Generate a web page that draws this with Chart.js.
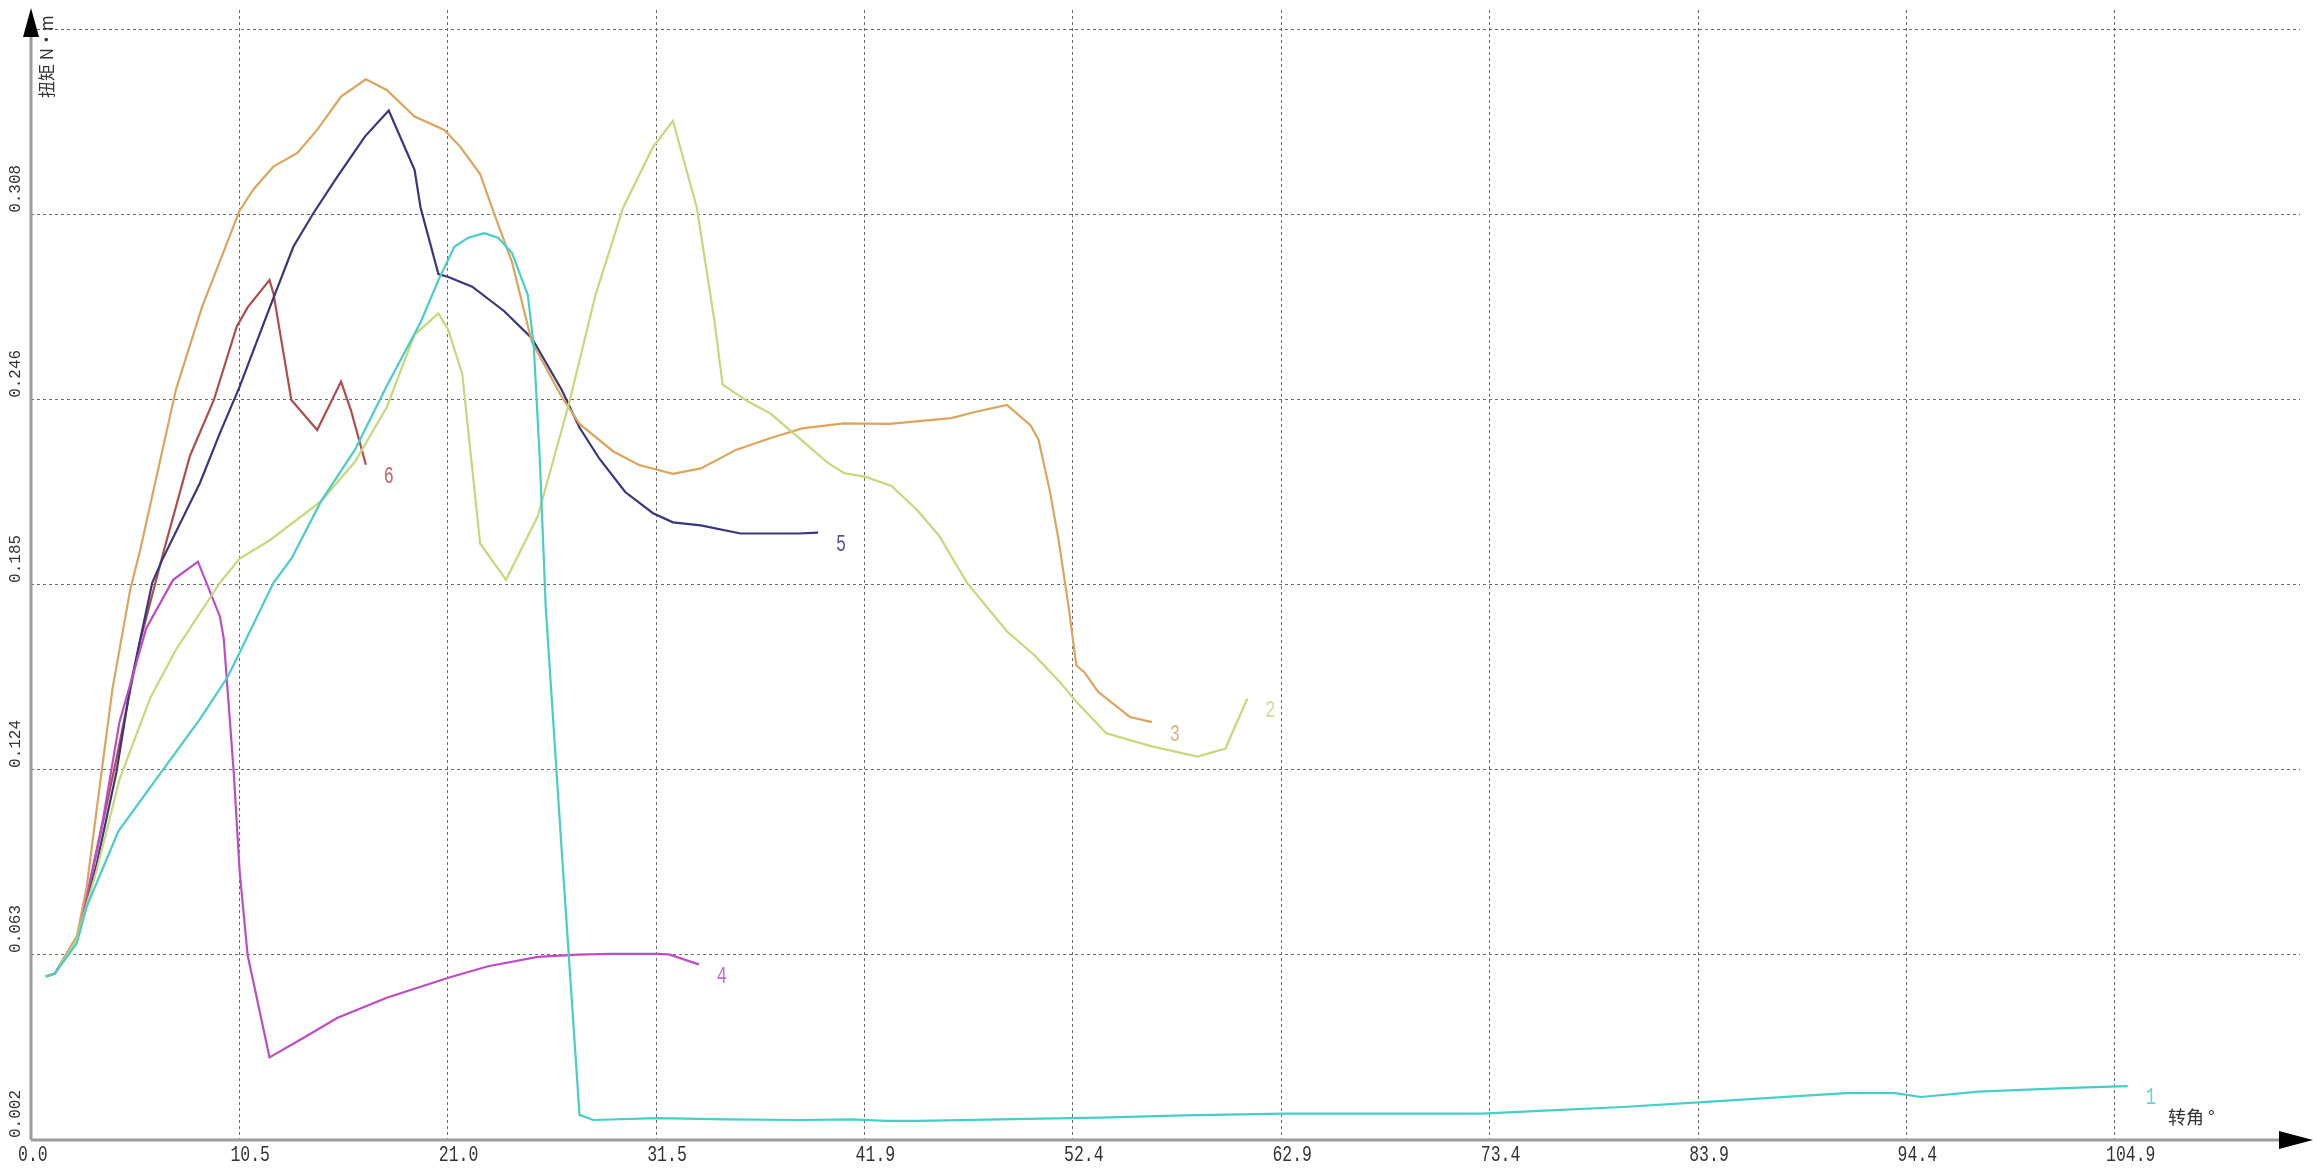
<!DOCTYPE html>
<html>
<head>
<meta charset="utf-8">
<script src="https://cdn.jsdelivr.net/npm/chart.js@4.4.1/dist/chart.umd.min.js"></script>
<style>
  html, body { margin: 0; padding: 0; background: #fff; }
  canvas { display: block; }
</style>
</head>
<body>
<canvas id="torque" width="2317" height="1175"></canvas>
<script>
// tick positions and labels
const xTickValues = [0, 10.486, 20.972, 31.458, 41.944, 52.43, 62.916, 73.402, 83.888, 94.374, 104.86];
const xTickLabels = ['0.0', '10.5', '21.0', '31.5', '41.9', '52.4', '62.9', '73.4', '83.9', '94.4', '104.9'];
const yTickValues = [0.002, 0.06311, 0.12422, 0.18533, 0.24644, 0.30755, 0.36866];
const yTickLabels = ['0.002', '0.063', '0.124', '0.185', '0.246', '0.308', ''];

const seriesNames = ['1', '2', '3', '4', '5', '6'];
const seriesColors = ['#45cfc6', '#c5d97a', '#dba55c', '#bf4cc4', '#37377f', '#b24c4c'];

// 1
const angle1 = [0.75, 1.2, 2.3, 2.8, 4.4, 6.5, 8.5, 9.9, 10.5, 12.2, 13.1, 14.6, 16.3, 17.9, 19.6, 20.5, 21.3, 22.0, 22.8, 23.5, 24.2, 25.0, 25.3, 25.6, 25.9, 26.7, 27.6, 28.3, 31.5, 35.0, 38.7, 41.3, 43.0, 44.7, 50.1, 53.8, 58.0, 63.0, 73.0, 75.9, 80.1, 84.3, 91.3, 93.8, 95.1, 98.0, 103.0, 105.5];
const torque1 = [0.056, 0.057, 0.067, 0.079, 0.104, 0.123, 0.141, 0.155, 0.163, 0.186, 0.194, 0.213, 0.230, 0.251, 0.272, 0.286, 0.297, 0.300, 0.3015, 0.300, 0.295, 0.281, 0.264, 0.227, 0.178, 0.098, 0.0103, 0.0086, 0.0092, 0.0088, 0.0086, 0.0088, 0.0083, 0.0083, 0.0090, 0.0094, 0.0101, 0.0107, 0.0107, 0.0116, 0.0129, 0.0146, 0.0175, 0.0175, 0.0162, 0.0180, 0.0193, 0.0198];
// 2
const angle2 = [0.75, 1.2, 2.3, 3.3, 4.45, 6.0, 7.3, 9.5, 10.5, 12.0, 13.2, 14.6, 16.3, 17.9, 19.3, 20.5, 21.0, 21.7, 22.6, 23.9, 25.5, 27.1, 28.4, 29.8, 31.3, 32.3, 33.5, 34.4, 34.8, 36.1, 37.2, 38.8, 40.1, 40.9, 42.0, 43.3, 44.6, 45.7, 47.1, 49.1, 50.5, 51.8, 52.6, 54.1, 56.4, 58.7, 60.1, 61.2];
const torque2 = [0.056, 0.057, 0.068, 0.091, 0.121, 0.148, 0.164, 0.186, 0.194, 0.200, 0.206, 0.213, 0.226, 0.244, 0.268, 0.275, 0.2695, 0.255, 0.199, 0.187, 0.208, 0.246, 0.281, 0.310, 0.330, 0.3386, 0.310, 0.272, 0.2515, 0.2458, 0.242, 0.233, 0.2256, 0.2223, 0.221, 0.218, 0.210, 0.2015, 0.186, 0.170, 0.162, 0.153, 0.1467, 0.1363, 0.132, 0.1286, 0.1313, 0.1478];
// 3
const angle3 = [0.75, 1.2, 2.3, 2.8, 3.45, 4.1, 5.0, 5.5, 7.3, 8.6, 10.5, 11.2, 12.2, 13.4, 14.4, 15.6, 16.85, 17.9, 19.3, 20.8, 21.6, 22.6, 23.3, 24.2, 25.2, 26.7, 27.6, 29.3, 30.6, 32.3, 33.7, 35.5, 37.3, 38.8, 40.9, 43.2, 46.3, 47.6, 49.1, 50.3, 50.7, 51.25, 51.7, 52.2, 52.6, 53.0, 53.7, 55.3, 56.4];
const torque3 = [0.056, 0.057, 0.069, 0.0855, 0.1185, 0.151, 0.184, 0.197, 0.250, 0.277, 0.309, 0.316, 0.3235, 0.328, 0.3356, 0.3466, 0.3523, 0.3488, 0.340, 0.3356, 0.330, 0.321, 0.308, 0.292, 0.2656, 0.2475, 0.2385, 0.2294, 0.2249, 0.222, 0.2238, 0.230, 0.234, 0.237, 0.2387, 0.2385, 0.2404, 0.2426, 0.2448, 0.238, 0.2332, 0.2168, 0.2004, 0.1785, 0.1587, 0.1565, 0.150, 0.1417, 0.140];
// 4
const angle4 = [0.75, 1.2, 2.4, 3.6, 4.45, 5.8, 7.15, 8.4, 9.5, 9.7, 10.2, 10.5, 10.9, 12.0, 13.7, 15.4, 17.9, 21.0, 23.0, 25.5, 27.5, 29.2, 31.5, 32.1, 33.6];
const torque4 = [0.056, 0.057, 0.070, 0.107, 0.140, 0.171, 0.187, 0.193, 0.175, 0.1675, 0.1235, 0.0906, 0.0631, 0.0293, 0.0357, 0.0423, 0.049, 0.0556, 0.0594, 0.0625, 0.0632, 0.0635, 0.0635, 0.0633, 0.060];
// 5
const angle5 = [0.75, 1.2, 2.4, 3.3, 4.3, 5.0, 6.1, 6.6, 8.5, 9.5, 10.5, 11.9, 13.2, 14.2, 15.4, 16.8, 18.0, 19.3, 19.6, 20.5, 21.0, 22.2, 23.8, 25.2, 26.7, 27.6, 28.6, 29.9, 31.3, 32.3, 33.7, 35.7, 38.6, 39.6];
const torque5 = [0.056, 0.057, 0.070, 0.093, 0.1235, 0.152, 0.186, 0.1936, 0.219, 0.2354, 0.2508, 0.275, 0.297, 0.308, 0.320, 0.3334, 0.342, 0.3224, 0.310, 0.288, 0.287, 0.2838, 0.2758, 0.2668, 0.2498, 0.2373, 0.227, 0.216, 0.209, 0.206, 0.205, 0.2023, 0.2023, 0.2026];
// 6
const angle6 = [0.75, 1.2, 2.4, 3.3, 4.3, 5.5, 6.7, 8.0, 9.2, 10.35, 10.9, 12.0, 12.2, 13.1, 14.4, 15.6, 16.1, 16.85];
const torque6 = [0.056, 0.057, 0.070, 0.097, 0.128, 0.167, 0.197, 0.228, 0.2464, 0.2706, 0.277, 0.286, 0.2816, 0.2464, 0.2365, 0.2525, 0.243, 0.225];

const angles = [angle1, angle2, angle3, angle4, angle5, angle6];
const torques = [torque1, torque2, torque3, torque4, torque5, torque6];

const datasets = angles.map((a, i) => ({
    label: seriesNames[i],
    data: a.map((x, j) => ({ x: x, y: torques[i][j] })),
    borderColor: seriesColors[i],
    borderWidth: 2.2,
    pointRadius: 0,
    showLine: true,
    tension: 0,
    fill: false
}));

const AXIS_GREY = '#9c9c9c';
const TEXT = '#333333';

function narrowText(ctx, str, x, y, scaleX) {
    ctx.save();
    ctx.translate(x, y);
    ctx.scale(scaleX, 1);
    ctx.fillText(str, 0, 0);
    ctx.restore();
}

const decor = {
    id: 'decor',
    beforeDatasetsDraw(chart) {
        const ctx = chart.ctx;
        const xs = chart.scales.x, ys = chart.scales.y;
        const x0 = xs.getPixelForValue(0);
        const y0 = ys.getPixelForValue(yTickValues[0]);
        ctx.save();
        ctx.strokeStyle = AXIS_GREY;
        ctx.lineWidth = 3;
        ctx.beginPath();
        ctx.moveTo(x0, y0);
        ctx.lineTo(x0, 20);
        ctx.moveTo(x0, y0);
        ctx.lineTo(2290, y0);
        ctx.stroke();
        ctx.restore();
    },
    afterDraw(chart) {
        const ctx = chart.ctx;
        const xs = chart.scales.x, ys = chart.scales.y;
        const x0 = xs.getPixelForValue(0);
        const y0 = ys.getPixelForValue(yTickValues[0]);
        ctx.save();
        // arrow heads
        ctx.fillStyle = '#000';
        ctx.beginPath();
        ctx.moveTo(x0, 8);
        ctx.lineTo(x0 - 8, 37);
        ctx.lineTo(x0 + 8, 37);
        ctx.closePath();
        ctx.fill();
        ctx.beginPath();
        ctx.moveTo(2313, y0);
        ctx.lineTo(2279, y0 - 9);
        ctx.lineTo(2279, y0 + 9);
        ctx.closePath();
        ctx.fill();

        // x tick labels
        ctx.fillStyle = TEXT;
        ctx.font = '22px "Liberation Mono", monospace';
        ctx.textAlign = 'left';
        ctx.textBaseline = 'top';
        xTickValues.forEach((v, i) => {
            const px = xs.getPixelForValue(v);
            narrowText(ctx, xTickLabels[i], px - (i === 0 ? 13 : 9), y0 + 4, 0.75);
        });

        // y tick labels, rotated
        ctx.font = '16px "Liberation Mono", monospace';
        ctx.textBaseline = 'middle';
        yTickValues.forEach((v, i) => {
            if (!yTickLabels[i]) return;
            const py = ys.getPixelForValue(v);
            ctx.save();
            ctx.translate(16, py - 2);
            ctx.rotate(-Math.PI / 2);
            ctx.fillText(yTickLabels[i], 0, 0);
            ctx.restore();
        });

        // axis titles
        ctx.font = '17px "Noto Sans CJK SC", sans-serif';
        ctx.save();
        ctx.translate(47, 98);
        ctx.rotate(-Math.PI / 2);
        ctx.textAlign = 'left';
        ctx.fillText('扭矩 N·m', 0, 0);
        ctx.restore();
        ctx.font = '18px "Noto Sans CJK SC", sans-serif';
        ctx.textAlign = 'left';
        ctx.textBaseline = 'middle';
        ctx.fillText('转角 °', 2168, y0 - 23);

        // series labels next to each curve end
        ctx.font = '24px "Liberation Mono", monospace';
        ctx.textAlign = 'center';
        ctx.textBaseline = 'middle';
        chart.data.datasets.forEach((ds, i) => {
            const pts = chart.getDatasetMeta(i).data;
            const last = pts[pts.length - 1];
            ctx.fillStyle = seriesColors[i];
            ctx.globalAlpha = 0.85;
            narrowText(ctx, ds.label, last.x + 23, last.y + 12, 0.7);
        });
        ctx.restore();
    }
};

new Chart(document.getElementById('torque'), {
    type: 'scatter',
    data: { datasets: datasets },
    options: {
        responsive: false,
        animation: false,
        devicePixelRatio: 1,
        layout: { padding: { left: 31, right: 17, top: 10, bottom: 35 } },
        plugins: {
            legend: { display: false },
            tooltip: { enabled: false }
        },
        scales: {
            x: {
                type: 'linear',
                min: 0,
                max: 114.17,
                afterBuildTicks: s => { s.ticks = xTickValues.map(v => ({ value: v })); },
                ticks: { display: false },
                grid: {
                    color: c => (c.tick && c.tick.value === 0) ? 'rgba(0,0,0,0)' : '#6a6a6a',
                    lineWidth: 1,
                    drawTicks: false
                },
                border: { display: false, dash: [3, 3] }
            },
            y: {
                type: 'linear',
                min: 0.002,
                max: 0.3752,
                afterBuildTicks: s => { s.ticks = yTickValues.map(v => ({ value: v })); },
                ticks: { display: false },
                grid: {
                    color: c => (c.tick && c.tick.value === yTickValues[0]) ? 'rgba(0,0,0,0)' : '#6a6a6a',
                    lineWidth: 1,
                    drawTicks: false
                },
                border: { display: false, dash: [3, 3] }
            }
        }
    },
    plugins: [decor]
});
</script>
</body>
</html>
